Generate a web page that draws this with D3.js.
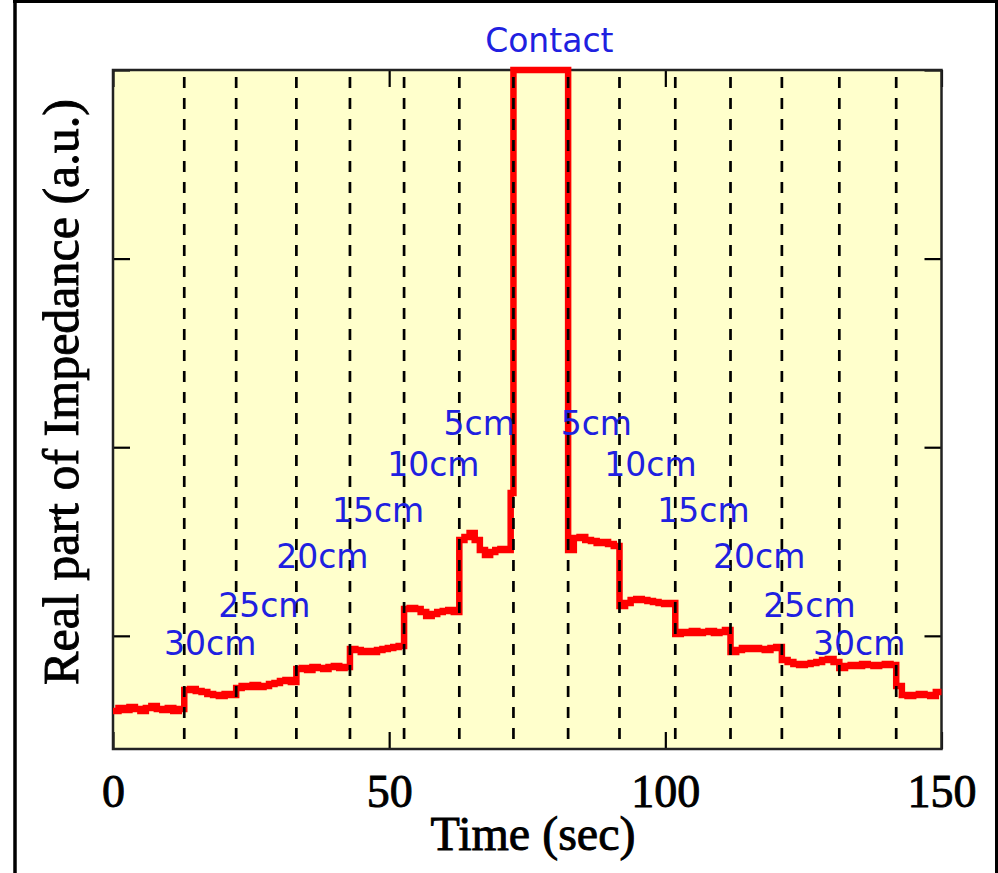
<!DOCTYPE html>
<html>
<head>
<meta charset="utf-8">
<script src="https://cdn.jsdelivr.net/npm/d3@7/dist/d3.min.js"></script>
<style>
  html, body { margin: 0; padding: 0; background: #ffffff; }
  svg { display: block; }
</style>
</head>
<body>
<script>
// ---------------- DATA ----------------
// x tick labels (seconds)
const xTicks = [0, 50, 100, 150];
// y tick positions (a.u., unlabeled in the original)
const yTicks = [0.6, 1.6, 2.6, 3.6];

// times (sec) of the dashed marker lines (distance changes)
const markerTimes = [12.9, 22.3, 33.2, 42.9, 52.7, 62.7, 72.5, 82.4, 91.7, 101.8, 111.8, 121.1, 131.5, 141.8];

// boundaries (sec) of the measured steps
const stepTimes = [0, 12.9, 22.3, 33.2, 42.9, 52.7, 62.7, 72.0, 72.5, 82.4, 91.7, 101.8, 111.8, 121.1, 131.5, 141.8, 150];

// readings within each step (real part of impedance, a.u.)
const stepReadings = [
  [0.201, 0.217, 0.207, 0.223, 0.212, 0.201, 0.217, 0.228, 0.212, 0.207, 0.217, 0.201, 0.212], // baseline
  [0.313, 0.318, 0.308, 0.302, 0.292, 0.286, 0.281, 0.292, 0.286],                             // 30cm
  [0.323, 0.334, 0.329, 0.339, 0.329, 0.334, 0.345, 0.350, 0.361, 0.366, 0.355],               // 25cm
  [0.424, 0.429, 0.419, 0.435, 0.429, 0.424, 0.435, 0.440, 0.429, 0.435],                      // 20cm
  [0.530, 0.525, 0.514, 0.520, 0.514, 0.525, 0.530, 0.536, 0.541, 0.546],                      // 15cm
  [0.742, 0.748, 0.742, 0.726, 0.705, 0.716, 0.726, 0.732, 0.737, 0.726],                      // 10cm
  [1.108, 1.124, 1.145, 1.108, 1.055, 1.029, 1.045, 1.055, 1.060, 1.055],                      // 5cm
  [1.357],                                                                                     // approach
  [3.600],                                                                                     // contact
  [1.055, 1.119, 1.124, 1.108, 1.103, 1.092, 1.098, 1.087, 1.076],                             // 5cm
  [0.758, 0.774, 0.790, 0.795, 0.790, 0.785, 0.779, 0.774, 0.769, 0.774],                      // 10cm
  [0.610, 0.620, 0.615, 0.626, 0.615, 0.620, 0.626, 0.615, 0.620, 0.631],                      // 15cm
  [0.514, 0.525, 0.536, 0.530, 0.536, 0.530, 0.525, 0.536, 0.541],                             // 20cm
  [0.472, 0.461, 0.451, 0.445, 0.451, 0.456, 0.461, 0.472, 0.477, 0.461],                      // 25cm
  [0.429, 0.440, 0.445, 0.440, 0.451, 0.445, 0.440, 0.445, 0.451, 0.445],                      // 30cm
  [0.334, 0.286, 0.281, 0.286, 0.292, 0.286, 0.281, 0.302]                                     // baseline
];

// distance annotations: text, time (sec), level (a.u.)
const labelTexts  = ["30cm", "25cm", "20cm", "15cm", "10cm", "5cm", "5cm", "10cm", "15cm", "20cm", "25cm", "30cm", "Contact"];
const labelTimes  = [17.6, 27.4, 37.9, 48.0, 58.0, 66.3, 87.5, 97.3, 106.9, 117.0, 126.1, 135.1, 79.0];
const labelLevels = [0.498, 0.700, 0.960, 1.204, 1.448, 1.665, 1.665, 1.448, 1.204, 0.960, 0.700, 0.498, 3.696];

const xTitle = "Time (sec)";
const yTitle = "Real part of Impedance (a.u.)";

// ---------------- CHART ----------------
const W = 998, H = 873;
const L = 113, R = 941.5, T = 70, B = 749;
const serif = "'Liberation Serif', 'Times New Roman', serif";

const svg = d3.select("body").append("svg").attr("width", W).attr("height", H);

// outer black border
svg.append("line").attr("x1", 15).attr("x2", 15).attr("y1", 0).attr("y2", H)
  .attr("stroke", "#000").attr("stroke-width", 3.5);
svg.append("line").attr("x1", 996.5).attr("x2", 996.5).attr("y1", 0).attr("y2", H)
  .attr("stroke", "#000").attr("stroke-width", 3);
svg.append("line").attr("x1", 13).attr("x2", W).attr("y1", 1.5).attr("y2", 1.5)
  .attr("stroke", "#000").attr("stroke-width", 3);

const x = d3.scaleLinear().domain([0, 150]).range([L, R]);
const y = d3.scaleLinear().domain([0, 3.6]).range([B, T]);

// plot background
svg.append("rect").attr("x", L).attr("y", T).attr("width", R - L).attr("height", B - T)
  .attr("fill", "#ffffcc");

// axes (ticks inward on all four sides)
const tickLen = 17;
const gB = svg.append("g").attr("transform", `translate(0,${B})`)
  .call(d3.axisBottom(x).tickValues(xTicks).tickSizeInner(-tickLen).tickSizeOuter(0).tickFormat(d3.format("d")));
gB.selectAll("text")
  .attr("y", 58).attr("dy", null)
  .attr("font-family", serif)
  .attr("font-size", 46).attr("fill", "#000")
  .attr("stroke", "#000").attr("stroke-width", 0.9);
const gT = svg.append("g").attr("transform", `translate(0,${T})`)
  .call(d3.axisTop(x).tickValues(xTicks).tickSizeInner(-tickLen).tickSizeOuter(0).tickFormat(""));
const gL = svg.append("g").attr("transform", `translate(${L},0)`)
  .call(d3.axisLeft(y).tickValues(yTicks).tickSizeInner(-tickLen).tickSizeOuter(0).tickFormat(""));
const gR = svg.append("g").attr("transform", `translate(${R},0)`)
  .call(d3.axisRight(y).tickValues(yTicks).tickSizeInner(-tickLen).tickSizeOuter(0).tickFormat(""));
[gB, gT, gL, gR].forEach(g => {
  g.select(".domain").remove();
  g.selectAll(".tick line").attr("stroke", "#000").attr("stroke-width", 2.2);
});

// frame
svg.append("rect").attr("x", L).attr("y", T).attr("width", R - L).attr("height", B - T)
  .attr("fill", "none").attr("stroke", "#222").attr("stroke-width", 2.5);

// build the stepped series from the readings
const series = [];
stepReadings.forEach((vals, i) => {
  const t0 = stepTimes[i], t1 = stepTimes[i + 1];
  const dt = (t1 - t0) / vals.length;
  vals.forEach((v, k) => series.push([t0 + k * dt, v]));
});
const lastVals = stepReadings[stepReadings.length - 1];
series.push([stepTimes[stepTimes.length - 1], lastVals[lastVals.length - 1]]);

const line = d3.line().x(d => x(d[0])).y(d => y(d[1])).curve(d3.curveStepAfter);
svg.append("path").datum(series)
  .attr("d", line)
  .attr("fill", "none").attr("stroke", "#ff0000")
  .attr("stroke-width", 6.5).attr("stroke-linejoin", "miter").attr("stroke-linecap", "butt");

// dashed marker lines
svg.append("g").selectAll("line").data(markerTimes).join("line")
  .attr("x1", d => x(d)).attr("x2", d => x(d))
  .attr("y1", T + 7).attr("y2", B - 8)
  .attr("stroke", "#000").attr("stroke-width", 2.7)
  .attr("stroke-dasharray", "11,10");

// distance annotations
svg.append("g").selectAll("text").data(labelTexts).join("text")
  .attr("x", (d, i) => x(labelTimes[i]))
  .attr("y", (d, i) => y(labelLevels[i]))
  .attr("text-anchor", "middle")
  .attr("font-family", "'DejaVu Sans', Verdana, sans-serif")
  .attr("font-size", 33)
  .attr("fill", "#2020e0")
  .text(d => d);

// axis titles
svg.append("text")
  .attr("x", 533).attr("y", 850)
  .attr("text-anchor", "middle")
  .attr("font-family", serif)
  .attr("font-size", 48).attr("fill", "#000")
  .attr("stroke", "#000").attr("stroke-width", 0.9)
  .text(xTitle);
svg.append("text")
  .attr("transform", `translate(78,${392}) rotate(-90)`)
  .attr("text-anchor", "middle")
  .attr("font-family", serif)
  .attr("font-size", 50).attr("fill", "#000")
  .attr("stroke", "#000").attr("stroke-width", 0.9)
  .text(yTitle);
</script>
</body>
</html>
